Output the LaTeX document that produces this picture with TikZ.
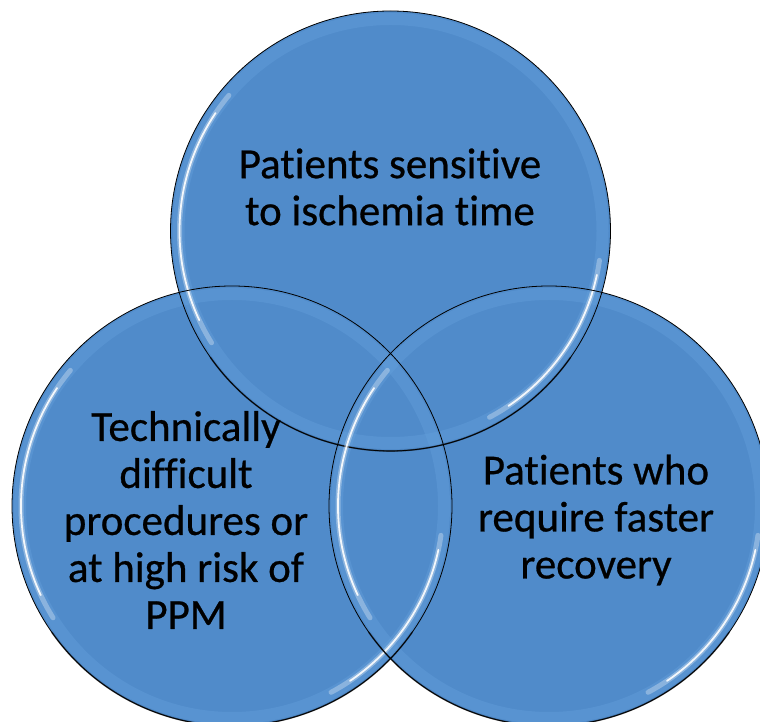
\documentclass[tikz,border=0pt]{standalone}
\usepackage{fontspec}
\setmainfont{Carlito}[Ligatures=NoCommon]
\newfontfamily\labelfont{Carlito}[Ligatures=NoCommon, FakeBold=0.6]
\usepackage{xcolor}
\usepackage{tikz}
\usetikzlibrary{positioning}
\definecolor{vennblue}{RGB}{80,139,202}
\definecolor{vennrim}{RGB}{100,160,220}
\tikzset{
  setcircle/.style={circle, minimum size=440pt, inner sep=0pt, fill=vennblue},
  rim/.style={draw=black, line width=0.8pt},
  shade/.style={draw=black, line width=1.6pt, opacity=0.55},
  band/.style={draw=vennrim, line width=12pt, opacity=0.4},
  glow/.style={draw=white, line width=5pt, opacity=0.3, line cap=round},
  shine/.style={draw=white, line width=1.8pt, opacity=0.9, line cap=round},
  setlabel/.style={align=center, text=black, font=\labelfont\fontsize{43}{47}\selectfont}
}

\begin{document}
\begin{tikzpicture}[x=1pt, y=1pt]
\clip (0,0) rectangle (760,722);

% Three sets
\node[setcircle] (top) at (390.5,491) {};
\node[setcircle] (left) at (232,216) {};
\node[setcircle] (right) at (549,216) {};

% Lighter band just inside each edge
\draw[band] (top.center) circle[radius=212pt];
\draw[band] (left.center) circle[radius=212pt];
\draw[band] (right.center) circle[radius=212pt];

% Top circle: outline and highlights
\draw[rim] (top.center) circle[radius=220pt];
\draw[shade] (top.center) ++(215:220pt) arc[start angle=215, end angle=325, radius=220pt];
\draw[glow] (top.center) ++(140:211pt) arc[start angle=140, end angle=212, radius=211pt];
\draw[shine] (top.center) ++(146:211pt) arc[start angle=146, end angle=205, radius=211pt];
\draw[glow] (top.center) ++(-8:211pt) arc[start angle=-8, end angle=-62, radius=211pt];
\draw[shine] (top.center) ++(-12:211pt) arc[start angle=-12, end angle=-56, radius=211pt];

% Left circle: outline and highlights
\draw[rim] (left.center) circle[radius=220pt];
\draw[shade] (left.center) ++(215:220pt) arc[start angle=215, end angle=325, radius=220pt];
\draw[glow] (left.center) ++(140:211pt) arc[start angle=140, end angle=212, radius=211pt];
\draw[shine] (left.center) ++(146:211pt) arc[start angle=146, end angle=205, radius=211pt];
\draw[glow] (left.center) ++(-8:211pt) arc[start angle=-8, end angle=-62, radius=211pt];
\draw[shine] (left.center) ++(-12:211pt) arc[start angle=-12, end angle=-56, radius=211pt];

% Right circle: outline and highlights
\draw[rim] (right.center) circle[radius=220pt];
\draw[shade] (right.center) ++(215:220pt) arc[start angle=215, end angle=325, radius=220pt];
\draw[glow] (right.center) ++(140:211pt) arc[start angle=140, end angle=212, radius=211pt];
\draw[shine] (right.center) ++(146:211pt) arc[start angle=146, end angle=205, radius=211pt];
\draw[glow] (right.center) ++(-8:211pt) arc[start angle=-8, end angle=-62, radius=211pt];
\draw[shine] (right.center) ++(-12:211pt) arc[start angle=-12, end angle=-56, radius=211pt];

% Labels
\node[setlabel] (ischemia) at (390,535) {Patients sensitive\\to ischemia time};
\node[setlabel] (difficult) at (186,202) {Technically\\difficult\\procedures or\\at high risk of\\PPM};
\node[setlabel] (recovery) at (596,202) {Patients who\\require faster\\recovery};
\end{tikzpicture}
\end{document}
